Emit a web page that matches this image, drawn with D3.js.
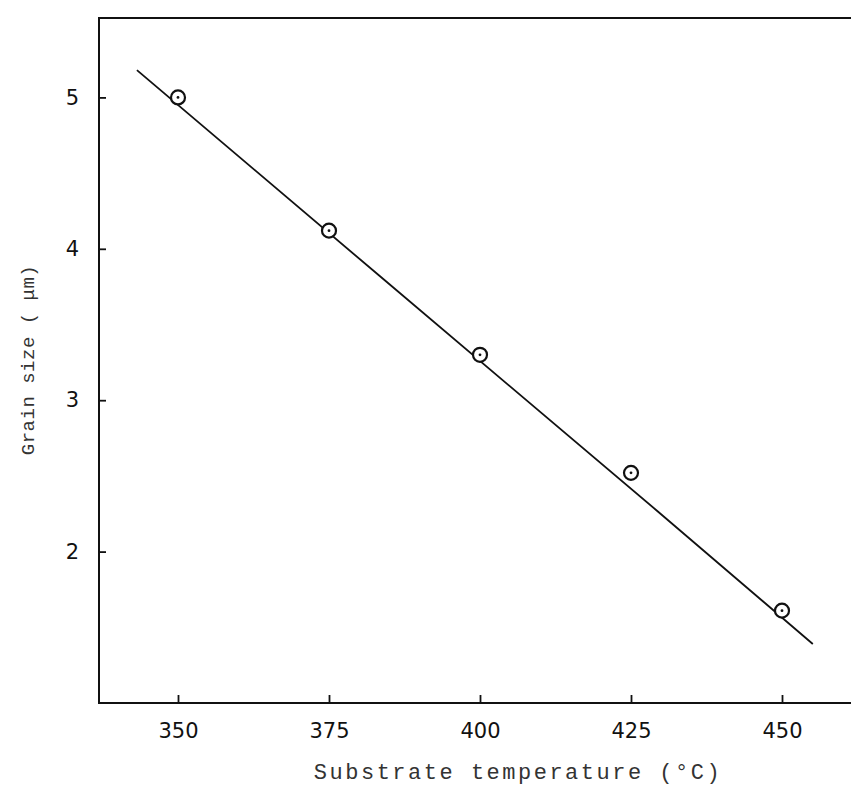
<!DOCTYPE html>
<html lang="en">
<head>
    <meta charset="UTF-8">
    <title>Grain size vs substrate temperature</title>
    <script src="https://d3js.org/d3.v7.min.js"></script>
    <style>
        body, html {
            margin: 0;
            background-color: #fff;
        }
        .axis-label {
            font-family: 'Liberation Mono', 'DejaVu Sans Mono', monospace;
            fill: #333;
        }
    </style>
</head>
<body>
<svg id="chart"></svg>

<script>
    // measured points
    const temperatures = [350, 375, 400, 425, 450];
    const grainSizes = [5.0, 4.12, 3.30, 2.52, 1.61];

    // hand-drawn fit line
    const fitTemps = [343.2, 383.4, 429.3, 455.1];
    const fitSizes = [5.18, 3.82, 2.27, 1.39];

    const xTicks = [350, 375, 400, 425, 450];
    const yTicks = [2, 3, 4, 5];

    const margin = { top: 18, right: 0, bottom: 104, left: 99 },
        width = 851 - margin.left - margin.right,
        height = 807 - margin.top - margin.bottom;

    const svg = d3.select("#chart")
        .attr("width", 851)
        .attr("height", 807)
        .append("g")
        .attr("transform", `translate(${margin.left},${margin.top})`);

    const x = d3.scaleLinear().domain([350, 450]).range([79, 683]);
    const y = d3.scaleLinear().domain([1, 5]).range([height, height - 4 * 151.4]);

    // frame: left, top, bottom (open on the right)
    svg.append("path")
        .attr("d", `M${width},0 H0 V${height} H${width}`)
        .attr("fill", "none")
        .attr("stroke", "#111")
        .attr("stroke-width", 2);

    const xAxis = svg.append("g")
        .attr("transform", `translate(0,${height})`)
        .call(d3.axisBottom(x).tickValues(xTicks).tickFormat(d3.format("d"))
            .tickSizeInner(-8).tickSizeOuter(0).tickPadding(20));
    xAxis.select(".domain").remove();

    const yAxis = svg.append("g")
        .call(d3.axisLeft(y).tickValues(yTicks).tickFormat(d3.format("d"))
            .tickSizeInner(-7).tickSizeOuter(0).tickPadding(20));
    yAxis.select(".domain").remove();

    svg.selectAll(".tick line").attr("stroke", "#111").attr("stroke-width", 1.8);
    svg.selectAll(".tick text")
        .attr("font-family", "'DejaVu Sans', sans-serif")
        .attr("font-size", 21)
        .attr("fill", "#111");

    // fit line
    const fitData = fitTemps.map((t, i) => ({ t, v: fitSizes[i] }));
    svg.append("path")
        .datum(fitData)
        .attr("fill", "none")
        .attr("stroke", "#111")
        .attr("stroke-width", 1.8)
        .attr("d", d3.line().x(d => x(d.t)).y(d => y(d.v)));

    // markers: open circle with a dot
    const points = temperatures.map((t, i) => ({ t, v: grainSizes[i] }));
    const marks = svg.selectAll(".pt")
        .data(points)
        .enter().append("g")
        .attr("class", "pt")
        .attr("transform", d => `translate(${x(d.t)},${y(d.v)})`);

    marks.append("circle")
        .attr("r", 7)
        .attr("fill", "#fff")
        .attr("stroke", "#111")
        .attr("stroke-width", 2.2);

    marks.append("circle")
        .attr("r", 1.4)
        .attr("fill", "#111");

    // axis titles
    svg.append("text")
        .attr("class", "axis-label")
        .attr("x", 518 - margin.left)
        .attr("y", 779 - margin.top)
        .attr("text-anchor", "middle")
        .style("font-size", "22px")
        .style("letter-spacing", "2.5px")
        .text("Substrate temperature (°C)");

    svg.append("text")
        .attr("class", "axis-label")
        .attr("transform", `translate(${34 - margin.left},${360 - margin.top}) rotate(-90)`)
        .attr("text-anchor", "middle")
        .style("font-size", "19px")
        .style("letter-spacing", "0.5px")
        .text("Grain size ( \u03bcm)");
</script>
</body>
</html>
